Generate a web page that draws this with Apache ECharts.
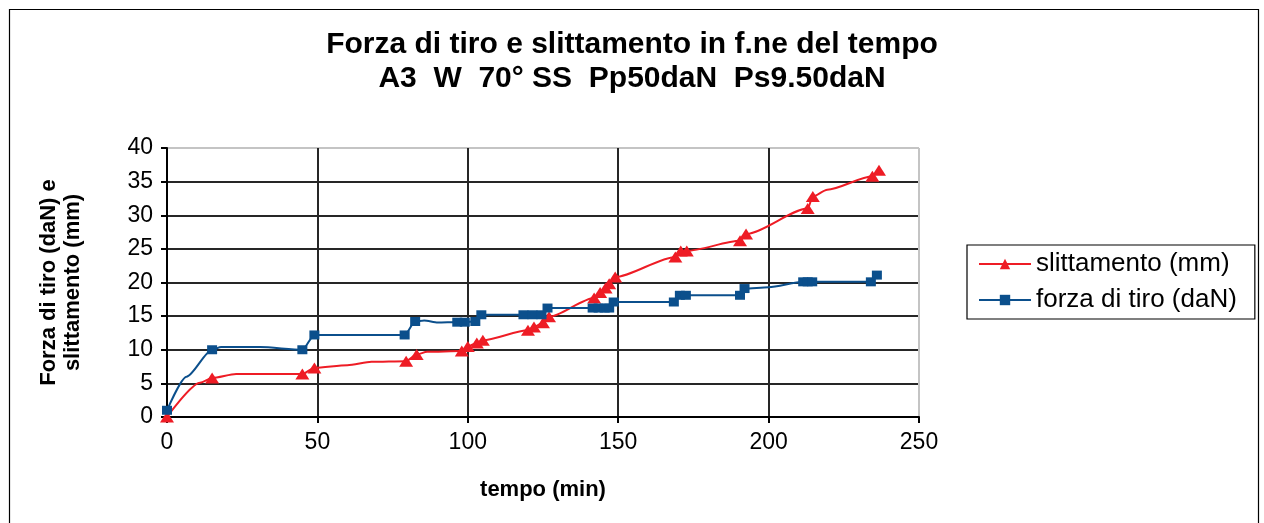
<!DOCTYPE html>
<html>
<head>
<meta charset="utf-8">
<script src="https://cdn.jsdelivr.net/npm/echarts@6/dist/echarts.min.js"></script>
<style>
  html, body { margin: 0; padding: 0; background: #fff; }
  #chart { width: 1264px; height: 523px; }
</style>
</head>
<body>
<div id="chart"></div>
<script>
// Slip (mm) against time (min); slipMarked = 1 where a marker is drawn
const slipTime   = [0, 11, 15, 23, 45, 49, 60, 68, 79.5, 83, 86.5, 98, 100, 103, 105, 120, 122, 125, 127, 142, 144, 145.8, 147, 149, 169, 170.8, 172.8, 190.5, 192.5, 213, 214.7, 219.5, 234.5, 236.7];
const slipMm     = [0, 5.1, 5.8, 6.4, 6.4, 7.3, 7.7, 8.2, 8.3, 9.3, 9.7, 9.8, 10.5, 11.0, 11.4, 12.9, 13.4, 14.0, 14.9, 17.7, 18.5, 19.2, 19.8, 20.8, 23.8, 24.7, 24.7, 26.2, 27.2, 31.0, 32.8, 33.8, 35.8, 36.7];
const slipMarked = [1, 0, 1, 0, 1, 1, 0, 0, 1, 1, 0, 1, 1, 1, 1, 1, 1, 1, 1, 1, 1, 1, 1, 1, 1, 1, 1, 1, 1, 1, 1, 0, 1, 1];

// Pulling force (daN) against time (min)
const pullTime   = [0, 6.5, 15, 18, 31, 45, 49, 79, 82.5, 85.5, 90, 96.5, 99, 102.5, 104.5, 118.5, 121.5, 124.5, 126.5, 141.5, 143.5, 145.5, 147, 148.5, 168.5, 170.5, 172.5, 190.5, 192, 200, 211.5, 213, 214.5, 234, 236];
const pullDaN    = [1.0, 6.0, 10.0, 10.4, 10.4, 10.0, 12.2, 12.2, 14.2, 14.35, 14.05, 14.1, 14.1, 14.2, 15.2, 15.2, 15.2, 15.2, 16.2, 16.2, 16.2, 16.2, 16.2, 17.1, 17.1, 18.1, 18.1, 18.1, 19.1, 19.3, 20.1, 20.1, 20.1, 20.1, 21.1];
const pullMarked = [1, 0, 1, 0, 0, 1, 1, 1, 1, 0, 0, 1, 1, 1, 1, 1, 1, 1, 1, 1, 1, 1, 1, 1, 1, 1, 1, 1, 1, 0, 1, 1, 1, 1, 1];

const seriesNames = ['slittamento (mm)', 'forza di tiro (daN)'];
const xTicks = { min: 0, max: 250, interval: 50 };
const yTicks = { min: 0, max: 40, interval: 5 };

function buildPoints(times, values, marked) {
  return times.map((t, i) => {
    const item = { value: [t, values[i]] };
    if (!marked[i]) item.symbol = 'none';
    return item;
  });
}

const FONT = '"Liberation Sans", Arial, sans-serif';
const GRID_DARK = '#262626';
const GRID_EDGE = '#c4c4c4';

const chart = echarts.init(document.getElementById('chart'), null, { renderer: 'canvas' });

chart.setOption({
  backgroundColor: '#ffffff',
  animation: false,
  textStyle: { fontFamily: FONT, color: '#000' },
  graphic: [{
    type: 'rect',
    left: 7, top: 7,
    shape: { width: 1249, height: 530 },
    style: { fill: 'none', stroke: '#000', lineWidth: 1.2 },
    silent: true,
    z: -1
  }],
  title: {
    text: 'Forza di tiro e slittamento in f.ne del tempo\nA3  W  70° SS  Pp50daN  Ps9.50daN',
    left: 'center',
    top: 28,
    padding: 0,
    textStyle: {
      fontFamily: FONT, fontSize: 30, fontWeight: 'bold', color: '#000',
      lineHeight: 34, align: 'center'
    }
  },
  legend: {
    orient: 'vertical',
    left: 967,
    top: 245,
    padding: [5, 18, 5, 11],
    itemGap: 8,
    itemWidth: 52,
    itemHeight: 13,
    borderColor: '#000',
    borderWidth: 1.2,
    borderRadius: 0,
    textStyle: { fontFamily: FONT, fontSize: 26, color: '#000', lineHeight: 28 },
    data: seriesNames
  },
  grid: {
    left: 167, top: 148, right: 345, bottom: 106,
    containLabel: false
  },
  xAxis: {
    type: 'value',
    min: xTicks.min, max: xTicks.max, interval: xTicks.interval,
    name: 'tempo (min)',
    nameLocation: 'middle',
    nameGap: 62,
    nameTextStyle: { fontFamily: FONT, fontSize: 22, fontWeight: 'bold', color: '#000' },
    axisLine: { show: true, onZero: false, lineStyle: { color: '#000', width: 2 } },
    axisTick: { show: true, length: 6, lineStyle: { color: '#000', width: 2 } },
    axisLabel: { fontFamily: FONT, fontSize: 23, color: '#000', margin: 14 },
    splitLine: {
      show: true,
      lineStyle: { color: [GRID_DARK, GRID_DARK, GRID_DARK, GRID_DARK, GRID_DARK, GRID_EDGE], width: 2 }
    }
  },
  yAxis: {
    type: 'value',
    min: yTicks.min, max: yTicks.max, interval: yTicks.interval,
    name: 'Forza di tiro (daN) e\nslittamento (mm)',
    nameLocation: 'middle',
    nameRotate: 90,
    nameGap: 82,
    nameTextStyle: { fontFamily: FONT, fontSize: 22, fontWeight: 'bold', color: '#000', lineHeight: 24, align: 'center' },
    axisLine: { show: true, lineStyle: { color: '#000', width: 2 } },
    axisTick: { show: true, length: 6, lineStyle: { color: '#000', width: 2 } },
    axisLabel: { fontFamily: FONT, fontSize: 23, color: '#000', margin: 14 },
    splitLine: {
      show: true,
      lineStyle: {
        color: [GRID_DARK, GRID_DARK, GRID_DARK, GRID_DARK, GRID_DARK, GRID_DARK, GRID_DARK, GRID_DARK, GRID_EDGE],
        width: 2
      }
    }
  },
  series: [
    {
      name: seriesNames[0],
      type: 'line',
      data: buildPoints(slipTime, slipMm, slipMarked),
      smooth: 0.25,
      smoothMonotone: 'x',
      symbol: 'triangle',
      symbolSize: [14, 11],
      showAllSymbol: true,
      clip: false,
      lineStyle: { color: '#ee1c25', width: 2 },
      itemStyle: { color: '#ee1c25' },
      z: 3
    },
    {
      name: seriesNames[1],
      type: 'line',
      data: buildPoints(pullTime, pullDaN, pullMarked),
      smooth: 0.25,
      smoothMonotone: 'x',
      symbol: 'rect',
      symbolSize: [10, 9],
      showAllSymbol: true,
      clip: false,
      lineStyle: { color: '#0b4f8c', width: 2 },
      itemStyle: { color: '#0b4f8c' },
      z: 4
    }
  ]
});
</script>
</body>
</html>
